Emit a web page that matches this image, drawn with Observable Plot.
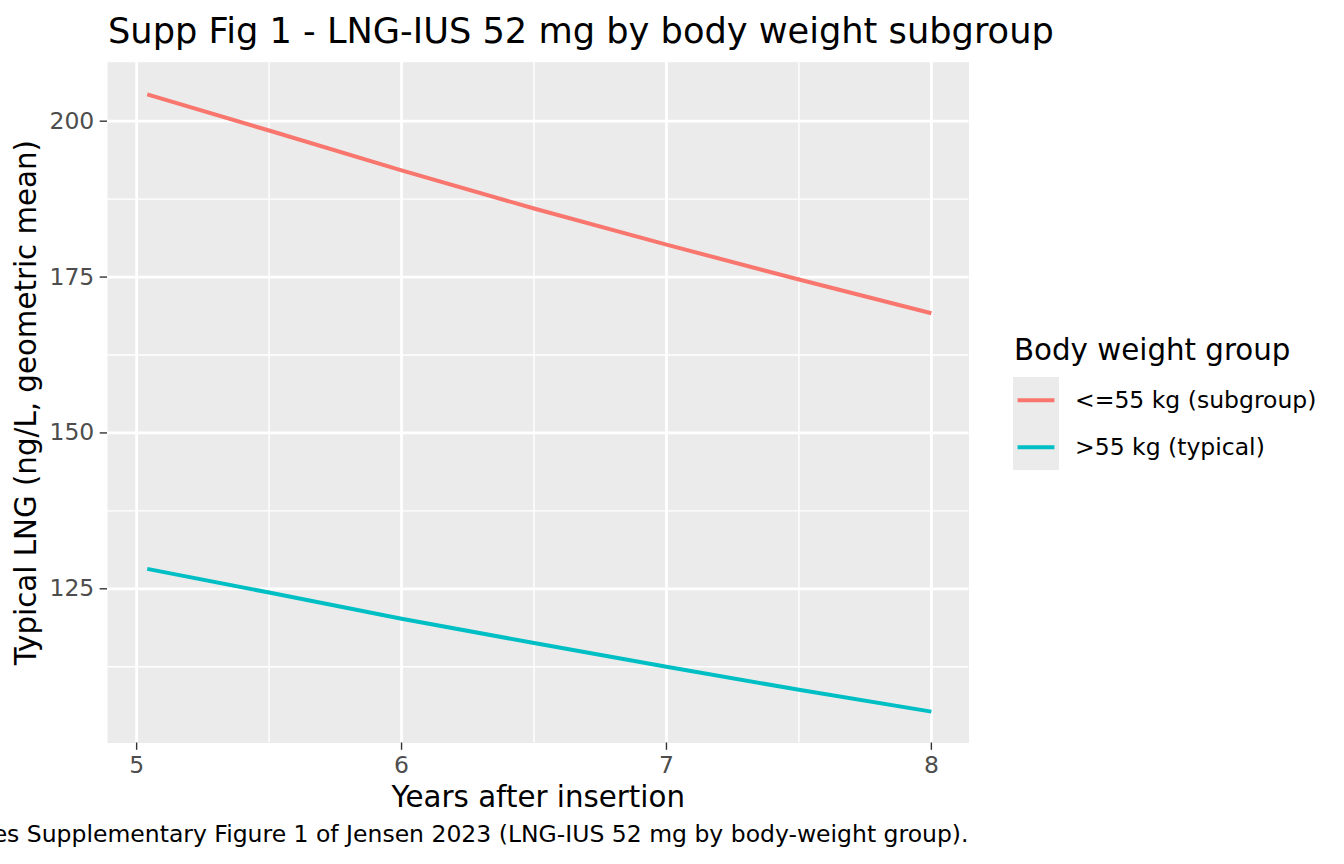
<!DOCTYPE html>
<html>
<head>
<meta charset="utf-8">
<script src="https://cdn.jsdelivr.net/npm/d3@7"></script>
<script src="https://cdn.jsdelivr.net/npm/@observablehq/plot@0.6"></script>
<style>
  body { margin: 0; background: #fff; font-family: "DejaVu Sans", sans-serif; }
  #wrap { position: relative; width: 1344px; height: 864px; overflow: hidden; background: #fff; }
  #title { position: absolute; left: 108px; top: 12.5px; font-size: 35.2px; line-height: 1; color: #000; white-space: nowrap; }
  #chart { position: absolute; left: 0; top: 52px; }
  #legend { position: absolute; left: 1013px; top: 336px; }
  #legend .ltitle { font-size: 29.3px; line-height: 1; color: #000; white-space: nowrap; margin-left: 1px; height: 41px; }
  #legend .row { display: flex; align-items: center; height: 46.5px; }
  #legend .key { width: 46px; height: 46.5px; background: #EBEBEB; display: block; }
  #legend .lab { font-size: 23.5px; color: #000; margin-left: 16px; white-space: nowrap; }
  #caption { position: absolute; left: 0; top: 823.4px; width: 968.5px; display: flex; justify-content: flex-end; overflow: hidden; white-space: nowrap; font-size: 23.5px; line-height: 1; color: #000; }
</style>
</head>
<body>
<div id="wrap">
  <div id="title"></div>
  <div id="chart"></div>
  <div id="legend"></div>
  <div id="caption"></div>
</div>
<script>
// ---- data ----
const years = [5.04, 5.5, 6, 6.5, 7, 7.5, 8];
const lowWeightLNG = [204.3, 198.5, 192.1, 186.0, 180.2, 174.6, 169.2];
const typicalWeightLNG = [128.2, 124.4, 120.2, 116.3, 112.5, 108.8, 105.3];
const groups = ["<=55 kg (subgroup)", ">55 kg (typical)"];
const groupColors = ["#F8766D", "#00BFC4"];
const xTicks = [5, 6, 7, 8];
const xMinor = [5.5, 6.5, 7.5];
const yTicks = [125, 150, 175, 200];
const yMinor = [112.5, 137.5, 162.5, 187.5];
const titleText = "Supp Fig 1 - LNG-IUS 52 mg by body weight subgroup";
const xLabel = "Years after insertion";
const yLabel = "Typical LNG (ng/L, geometric mean)";
const legendTitle = "Body weight group";
const captionText = "Reproduces Supplementary Figure 1 of Jensen 2023 (LNG-IUS 52 mg by body-weight group).";

const data = [];
years.forEach((yr, i) => {
  data.push({year: yr, value: lowWeightLNG[i], group: groups[0]});
  data.push({year: yr, value: typicalWeightLNG[i], group: groups[1]});
});

document.getElementById("title").textContent = titleText;
document.getElementById("caption").innerHTML = "<span></span>";
document.querySelector("#caption span").textContent = captionText;

const chart = Plot.plot({
  width: 1344,
  height: 760,
  marginTop: 9.7,
  marginBottom: 69.5,
  marginLeft: 107,
  marginRight: 375.5,
  style: {fontFamily: "DejaVu Sans", fontSize: "23.5px", background: "transparent", overflow: "visible"},
  x: {domain: [4.89, 8.142], axis: null},
  y: {domain: [100.27, 209.46], axis: null},
  color: {domain: groups, range: groupColors},
  marks: [
    Plot.frame({fill: "#EBEBEB", stroke: "none"}),
    Plot.gridX(xMinor, {stroke: "#fff", strokeOpacity: 1, strokeWidth: 1.4}),
    Plot.gridY(yMinor, {stroke: "#fff", strokeOpacity: 1, strokeWidth: 1.4}),
    Plot.gridX(xTicks, {stroke: "#fff", strokeOpacity: 1, strokeWidth: 2.8}),
    Plot.gridY(yTicks, {stroke: "#fff", strokeOpacity: 1, strokeWidth: 2.8}),
    Plot.line(data, {x: "year", y: "value", z: "group", stroke: "group", strokeWidth: 4, strokeLinejoin: "round", strokeLinecap: "butt"}),
    Plot.axisX(xTicks, {
      tickSize: 7.3, tickPadding: 5.9, stroke: "#333333", strokeWidth: 1.4, fill: "#4D4D4D",
      fontSize: 23.5, tickFormat: d => String(d),
      label: xLabel, labelAnchor: "center", labelArrow: "none", labelOffset: 64
    }),
    Plot.axisY(yTicks, {
      tickSize: 7.3, tickPadding: 5.9, stroke: "#333333", strokeWidth: 1.4, fill: "#4D4D4D",
      fontSize: 23.5, tickFormat: d => String(d),
      label: yLabel, labelAnchor: "center", labelArrow: "none", labelOffset: 92
    })
  ]
});
document.getElementById("chart").appendChild(chart);

// axis titles: black, larger (ggplot axis.title)
d3.select(chart).selectAll('g[aria-label="x-axis label"], g[aria-label="y-axis label"]')
  .attr("fill", "#000").attr("font-size", "29.3px");

// legend
const legend = d3.select("#legend");
legend.append("div").attr("class", "ltitle").text(legendTitle);
groups.forEach((g, i) => {
  const row = legend.append("div").attr("class", "row");
  const svg = row.append("svg").attr("class", "key").attr("width", 46).attr("height", 46.5);
  svg.append("line").attr("x1", 4.6).attr("x2", 41.4).attr("y1", 23.25).attr("y2", 23.25)
    .attr("stroke", groupColors[i]).attr("stroke-width", 4);
  row.append("div").attr("class", "lab").text(g);
});
</script>
</body>
</html>
